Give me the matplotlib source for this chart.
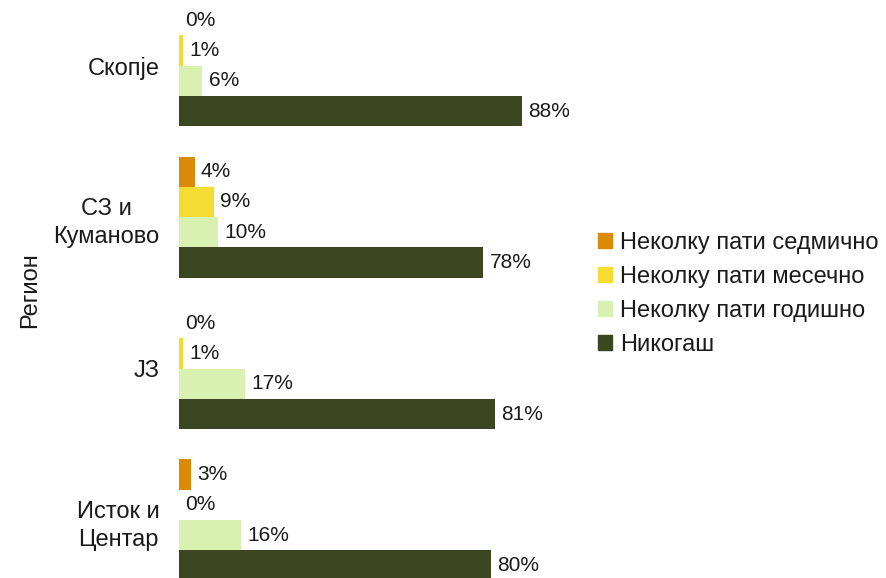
import matplotlib
matplotlib.use("Agg")
import matplotlib.pyplot as plt
from matplotlib.patches import Patch

plt.rcParams['font.family'] = ['Liberation Sans', 'DejaVu Sans']

categories = ["Скопје", "СЗ и\nКуманово", "ЈЗ", "Исток и\nЦентар"]
series_names = ["Неколку пати седмично", "Неколку пати месечно",
                "Неколку пати годишно", "Никогаш"]
values = [
    [0, 4, 0, 3],      # седмично
    [1, 9, 1, 0],      # месечно
    [6, 10, 17, 16],   # годишно
    [88, 78, 81, 80],  # никогаш
]
colors = ["#DB8A06", "#F5DC33", "#D8F0B0", "#3C4620"]

W, H = 887, 578
fig = plt.figure(figsize=(W / 100, H / 100), dpi=100)
slot = 30.3
top_px = 5
ax = fig.add_axes([179 / W, 0, 390 / W, (H - top_px) / H])

for k, (name, vals, c) in enumerate(zip(series_names, values, colors)):
    ys = [5 * g + 0.5 + k for g in range(len(categories))]
    ax.barh(ys, vals, height=1.0, color=c, label=name)
    for y, v in zip(ys, vals):
        ax.text(v + 1.6, y, f"{v}%", va="center", ha="left", fontsize=15, color="#1a1a1a")

ax.set_xlim(0, 100)
ax.set_ylim((H - top_px) / slot, 0)
ax.set_yticks([5 * g + 2 for g in range(len(categories))])
ax.set_yticklabels(categories, fontsize=17, color="#1a1a1a", ha="right",
                   multialignment="center", linespacing=1.35)
ax.tick_params(axis="y", length=0, pad=14)
ax.set_xticks([])
for s in ax.spines.values():
    s.set_visible(False)

fig.text(30 / W, 1 - 290 / H, "Регион", rotation=90, va="center", ha="center",
         fontsize=17, color="#1a1a1a")

handles = [Patch(color=c) for c in colors]
fig.legend(handles, series_names, loc="center left", bbox_to_anchor=(598 / W, 1 - 294 / H),
           frameon=False, fontsize=17, handlelength=0.6, handleheight=0.6,
           handletextpad=0.35, labelspacing=0.5, labelcolor="#1a1a1a",
           borderpad=0, borderaxespad=0)

fig.savefig("out.png", dpi=100)
